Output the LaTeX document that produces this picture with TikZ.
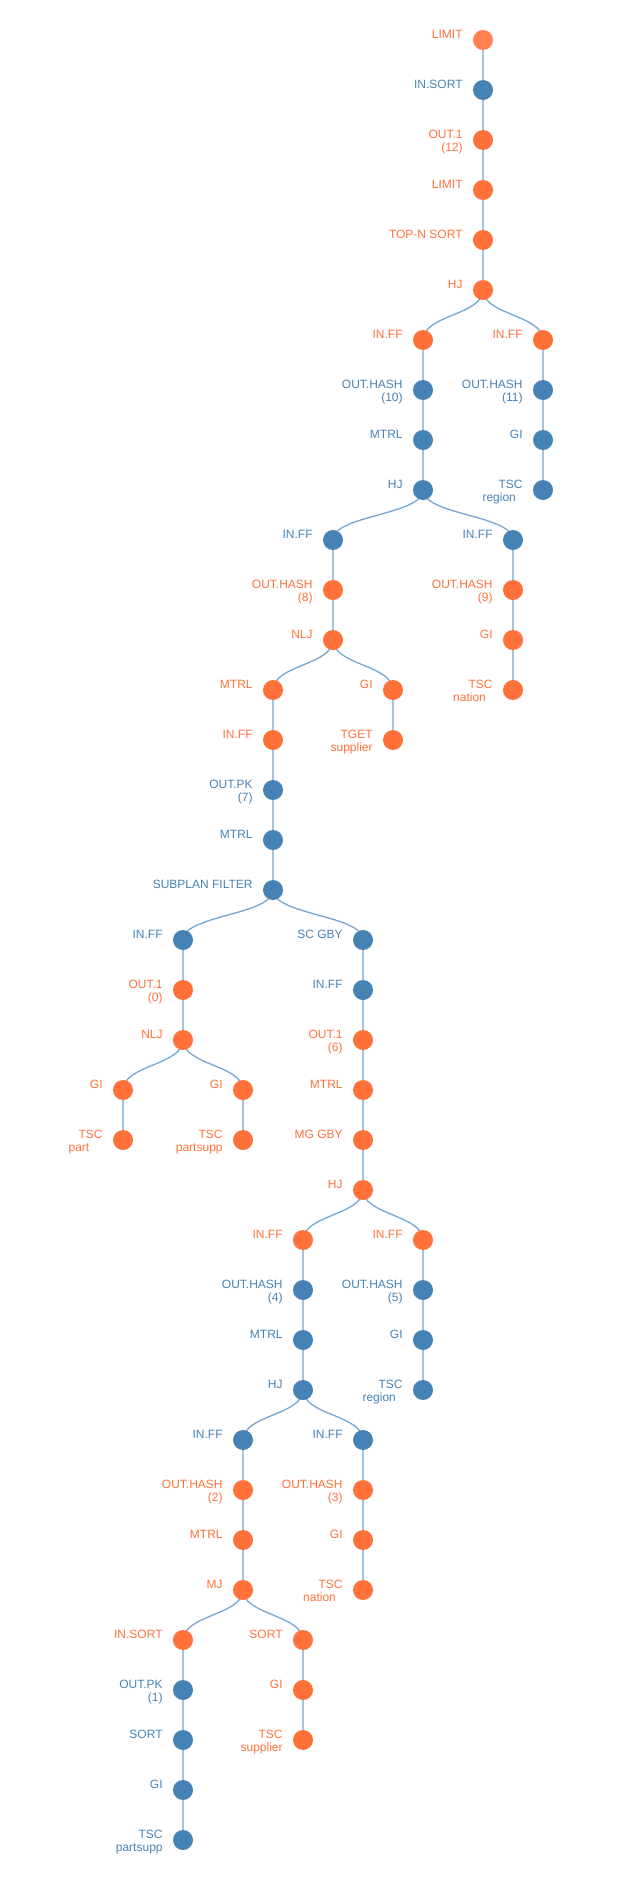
\documentclass[tikz,border=0pt]{standalone}
\usepackage{fontspec}
\setmainfont{Liberation Sans}
\usetikzlibrary{backgrounds}
\definecolor{orng}{HTML}{FF7139}
\definecolor{orngroot}{HTML}{FF8050}
\definecolor{stblue}{HTML}{4682B4}
\definecolor{vlinkc}{HTML}{A2C4E2}
\definecolor{clinkc}{HTML}{75A6D3}
% two-line label, baseline on the first line
\newcommand{\twoln}[2]{\begin{tabular}[t]{@{}r@{}}#1\\#2\end{tabular}}

\begin{document}
\begin{tikzpicture}[x=1pt, y=-1pt,
    lbl/.style={font=\fontsize{12}{13.5}\selectfont,
        inner sep=0pt, anchor=base east, label distance=10pt, yshift=2pt},
    op/.style={circle, fill=orng, minimum size=20pt, inner sep=0pt,
        label={[lbl, text=orng]left:#1}},
    bp/.style={circle, fill=stblue, minimum size=20pt, inner sep=0pt,
        label={[lbl, text=stblue]left:#1}},
    rootp/.style={op=#1, fill=orngroot},
    vlink/.style={draw=vlinkc, line width=2.2pt},
    clink/.style={draw=clinkc, line width=1.3pt}]

    \useasboundingbox (0,0) rectangle (625,1895);

    % top chain
    \node[rootp={LIMIT}]      (limit)   at (483,40) {};
    \node[bp={IN.SORT}]       (insort)  at (483,90) {};
    \node[op={\twoln{OUT.1}{(12)}}]   (outa)    at (483,140) {};
    \node[op={LIMIT}]         (limitb)  at (483,190) {};
    \node[op={TOP-N SORT}]    (topn)    at (483,240) {};
    \node[op={HJ}]            (hja)     at (483,290) {};

    \node[op={IN.FF}]         (inffa)   at (423,340) {};
    \node[op={IN.FF}]         (inffb)   at (543,340) {};
    \node[bp={\twoln{OUT.HASH}{(10)}}] (hash10) at (423,390) {};
    \node[bp={MTRL}]          (mtrla)   at (423,440) {};
    \node[bp={HJ}]            (hjb)     at (423,490) {};
    \node[bp={\twoln{OUT.HASH}{(11)}}] (hash11) at (543,390) {};
    \node[bp={GI}]            (gia)     at (543,440) {};
    \node[bp={\twoln{TSC}{region\rule{6.7pt}{0pt}}}] (tsca) at (543,490) {};

    \node[bp={IN.FF}]         (inffc)   at (333,540) {};
    \node[bp={IN.FF}]         (inffd)   at (513,540) {};
    \node[op={\twoln{OUT.HASH}{(8)}}] (hash8)   at (333,590) {};
    \node[op={NLJ}]           (nlja)    at (333,640) {};
    \node[op={\twoln{OUT.HASH}{(9)}}] (hash9)   at (513,590) {};
    \node[op={GI}]            (gib)     at (513,640) {};
    \node[op={\twoln{TSC}{nation\rule{6.7pt}{0pt}}}] (tscb) at (513,690) {};

    \node[op={MTRL}]          (mtrlb)   at (273,690) {};
    \node[op={GI}]            (gic)     at (393,690) {};
    \node[op={IN.FF}]         (inffe)   at (273,740) {};
    \node[op={\twoln{TGET}{supplier}}] (tget)   at (393,740) {};
    \node[bp={\twoln{OUT.PK}{(7)}}]   (pk7)     at (273,790) {};
    \node[bp={MTRL}]          (mtrlc)   at (273,840) {};
    \node[bp={SUBPLAN FILTER}] (subplan) at (273,890) {};

    % subplan filter branches
    \node[bp={IN.FF}]         (infff)   at (183,940) {};
    \node[bp={SC GBY}]        (scgby)   at (363,940) {};
    \node[op={\twoln{OUT.1}{(0)}}]    (outb)    at (183,990) {};
    \node[op={NLJ}]           (nljb)    at (183,1040) {};
    \node[op={GI}]            (gid)     at (123,1090) {};
    \node[op={GI}]            (gie)     at (243,1090) {};
    \node[op={\twoln{TSC}{part\rule{13.3pt}{0pt}}}] (tscc) at (123,1140) {};
    \node[op={\twoln{TSC}{partsupp}}] (tscd)    at (243,1140) {};

    \node[bp={IN.FF}]         (inffg)   at (363,990) {};
    \node[op={\twoln{OUT.1}{(6)}}]    (outc)    at (363,1040) {};
    \node[op={MTRL}]          (mtrld)   at (363,1090) {};
    \node[op={MG GBY}]        (mggby)   at (363,1140) {};
    \node[op={HJ}]            (hjc)     at (363,1190) {};

    \node[op={IN.FF}]         (inffh)   at (303,1240) {};
    \node[op={IN.FF}]         (inffi)   at (423,1240) {};
    \node[bp={\twoln{OUT.HASH}{(4)}}] (hash4)   at (303,1290) {};
    \node[bp={MTRL}]          (mtrle)   at (303,1340) {};
    \node[bp={HJ}]            (hjd)     at (303,1390) {};
    \node[bp={\twoln{OUT.HASH}{(5)}}] (hash5)   at (423,1290) {};
    \node[bp={GI}]            (gif)     at (423,1340) {};
    \node[bp={\twoln{TSC}{region\rule{6.7pt}{0pt}}}] (tsce) at (423,1390) {};

    \node[bp={IN.FF}]         (inffj)   at (243,1440) {};
    \node[bp={IN.FF}]         (inffk)   at (363,1440) {};
    \node[op={\twoln{OUT.HASH}{(2)}}] (hash2)   at (243,1490) {};
    \node[op={MTRL}]          (mtrlf)   at (243,1540) {};
    \node[op={MJ}]            (mj)      at (243,1590) {};
    \node[op={\twoln{OUT.HASH}{(3)}}] (hash3)   at (363,1490) {};
    \node[op={GI}]            (gig)     at (363,1540) {};
    \node[op={\twoln{TSC}{nation\rule{6.7pt}{0pt}}}] (tscf) at (363,1590) {};

    \node[op={IN.SORT}]       (insortb) at (183,1640) {};
    \node[op={SORT}]          (sorta)   at (303,1640) {};
    \node[bp={\twoln{OUT.PK}{(1)}}]   (pk1)     at (183,1690) {};
    \node[bp={SORT}]          (sortb)   at (183,1740) {};
    \node[bp={GI}]            (gih)     at (183,1790) {};
    \node[bp={\twoln{TSC}{partsupp}}] (tscg)    at (183,1840) {};
    \node[op={GI}]            (gii)     at (303,1690) {};
    \node[op={\twoln{TSC}{supplier}}] (tsch)    at (303,1740) {};

    \begin{scope}[on background layer]
        % straight links
        \foreach \a/\b in {limit/insort, insort/outa, outa/limitb, limitb/topn,
            topn/hja, inffa/hash10, hash10/mtrla, mtrla/hjb, inffb/hash11,
            hash11/gia, gia/tsca, inffc/hash8, hash8/nlja, inffd/hash9,
            hash9/gib, gib/tscb, mtrlb/inffe, inffe/pk7, pk7/mtrlc,
            mtrlc/subplan, gic/tget, infff/outb, outb/nljb, gid/tscc,
            gie/tscd, scgby/inffg, inffg/outc, outc/mtrld, mtrld/mggby,
            mggby/hjc, inffh/hash4, hash4/mtrle, mtrle/hjd, inffi/hash5,
            hash5/gif, gif/tsce, inffj/hash2, hash2/mtrlf, mtrlf/mj,
            inffk/hash3, hash3/gig, gig/tscf, insortb/pk1, pk1/sortb,
            sortb/gih, gih/tscg, sorta/gii, gii/tsch}
            \draw[vlink] (\a.center) -- (\b.center);
        % joins
        \foreach \a/\b in {hja/inffa, hja/inffb, hjb/inffc, hjb/inffd,
            nlja/mtrlb, nlja/gic, subplan/infff, subplan/scgby, nljb/gid,
            nljb/gie, hjc/inffh, hjc/inffi, hjd/inffj, hjd/inffk,
            mj/insortb, mj/sorta}
            \draw[clink] (\a.center) .. controls +(0,25) and +(0,-25) .. (\b.center);
    \end{scope}

\end{tikzpicture}
\end{document}
